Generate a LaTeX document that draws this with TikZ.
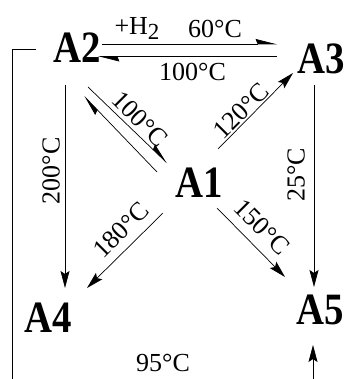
\documentclass[tikz,border=0pt]{standalone}
\usepackage{fontspec}
\setmainfont{Liberation Serif}
\usetikzlibrary{arrows.meta}
\newcommand{\tallsp}[1]{\scalebox{0.97}[1.12]{#1}}
\begin{document}
\begin{tikzpicture}[x=1pt, y=-1pt, line width=0.7pt,
    species/.style={inner sep=0pt, font=\fontsize{40}{40}\selectfont\bfseries},
    temp/.style={inner sep=0pt, font=\fontsize{26}{26}\selectfont},
    arr/.style={-{Stealth[length=17pt, width=9pt, inset=3pt]}},
    harp/.style={-{Stealth[harpoon, length=20pt, width=10pt, inset=2pt]}}]
    \useasboundingbox (0,0) rectangle (345,379);
    \clip (0,0) rectangle (345,379);
    % species
    \node[species] (A2) at (77,47.5) {\tallsp{A2}};
    \node[species] (A3) at (321,58.5) {\tallsp{A3}};
    \node[species] (A1) at (199.5,182.5) {\tallsp{A1}};
    \node[species] (A4) at (48.5,317.5) {\tallsp{A4}};
    \node[species] (A5) at (320.5,310) {\tallsp{A5}};
    % A2 <=> A3
    \draw[harp] ([shift={(25,-3.5)}]A2.center) -- ([shift={(-44,-14.5)}]A3.center);
    \draw[harp] ([shift={(-44,-2)}]A3.center) -- ([shift={(21,9)}]A2.center);
    % A2 <=> A1
    \draw[harp] ([shift={(11,39.5)}]A2.center) -- ([shift={(-32.5,-19.5)}]A1.center);
    \draw[harp] ([shift={(-42.5,-10.5)}]A1.center) -- ([shift={(7,48.5)}]A2.center);
    % from A1
    \draw[arr] ([shift={(18.5,-33.5)}]A1.center) -- ([shift={(-28,14.5)}]A3.center);
    \draw[arr] ([shift={(-36.5,30.5)}]A1.center) -- ([shift={(38.5,-29.5)}]A4.center);
    \draw[arr] ([shift={(17.5,25.5)}]A1.center) -- ([shift={(-35.5,-33)}]A5.center);
    % downwards
    \draw[arr] ([shift={(-12,37.5)}]A2.center) -- ([shift={(16.5,-29.5)}]A4.center);
    \draw[arr] ([shift={(-7,26.5)}]A3.center) -- ([shift={(-6.5,-23)}]A5.center);
    % round the bottom
    \draw[arr] ([shift={(-41,1.5)}]A2.center) -- ++(-24,0) -- ++(0,346)
        -| ([shift={(-7.5,35)}]A5.center);
    % conditions
    \node[temp] (h2) at (137,28) {+H\raisebox{-5pt}{\fontsize{23}{23}\selectfont 2}};
    \node[temp] (t60) at (215,28.5) {60°C};
    \node[temp] (t100a) at (192.5,71.5) {100°C};
    \node[temp, rotate=-45] (t100b) at (140,119) {100°C};
    \node[temp, rotate=45] (t120) at (241,111) {120°C};
    \node[temp, rotate=90] (t200) at (51,171) {200°C};
    \node[temp, rotate=90] (t25) at (296,175) {25°C};
    \node[temp, rotate=45] (t180) at (121,230) {180°C};
    \node[temp, rotate=-45] (t150) at (262,227) {150°C};
    \node[temp] (t95) at (163,363) {95°C};
\end{tikzpicture}
\end{document}
